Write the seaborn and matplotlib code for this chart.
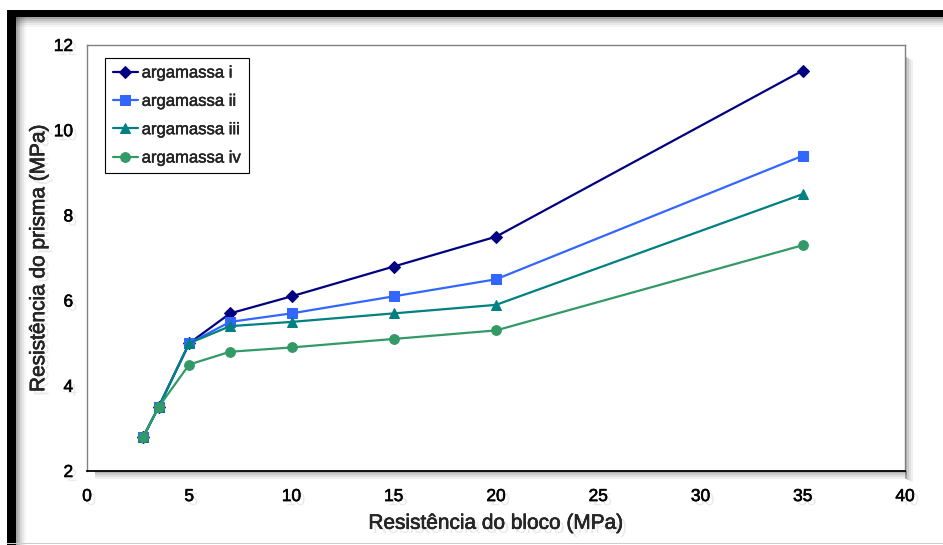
import matplotlib
matplotlib.use("Agg")
import matplotlib.pyplot as plt
import matplotlib.patheffects as pe
from matplotlib.patches import Rectangle
import seaborn as sns
import pandas as pd

# Block strength (MPa) and prism strength (MPa) per mortar type
bloco = [2.75, 3.5, 5, 7, 10, 15, 20, 35]
arg_i = [2.8, 3.5, 5.0, 5.7, 6.1, 6.8, 7.5, 11.4]
arg_ii = [2.8, 3.5, 5.0, 5.5, 5.7, 6.1, 6.5, 9.4]
arg_iii = [2.8, 3.5, 5.0, 5.4, 5.5, 5.7, 5.9, 8.5]
arg_iv = [2.8, 3.5, 4.5, 4.8, 4.9, 5.1, 5.3, 7.3]
series_names = ["argamassa i", "argamassa ii", "argamassa iii", "argamassa iv"]
x_ticks = [0, 5, 10, 15, 20, 25, 30, 35, 40]
y_ticks = [2, 4, 6, 8, 10, 12]

rows = []
for name, vals in zip(series_names, [arg_i, arg_ii, arg_iii, arg_iv]):
    for xb, yp in zip(bloco, vals):
        rows.append({"bloco": xb, "prisma": yp, "serie": name})
df = pd.DataFrame(rows)

sns.set_theme(style="white")
plt.rcParams["font.family"] = ["Liberation Sans", "DejaVu Sans"]

palette = {"argamassa i": "#000080", "argamassa ii": "#3366FF",
           "argamassa iii": "#008080", "argamassa iv": "#339966"}
markers = {"argamassa i": "D", "argamassa ii": "s",
           "argamassa iii": "^", "argamassa iv": "o"}
msize = {"argamassa i": 6, "argamassa ii": 7, "argamassa iii": 7, "argamassa iv": 7}

fig = plt.figure(figsize=(9.43, 5.45), dpi=100)
fig.patch.set_facecolor("white")

W, H = 943.0, 545.0

# Outer frame: black bars on top and left with soft grey shadow
for i, a in enumerate([0.35, 0.25, 0.16, 0.09, 0.04]):
    fig.patches.append(Rectangle((16 / W, (528 - 2 * i - 2) / H), 1, 2 / H,
                                 transform=fig.transFigure, color="black",
                                 alpha=a, lw=0, zorder=-2))
    fig.patches.append(Rectangle(((16 + 2 * i) / W, 0), 2 / W, 528 / H,
                                 transform=fig.transFigure, color="black",
                                 alpha=a, lw=0, zorder=-2))
fig.patches.append(Rectangle((7 / W, 528 / H), 1, 7 / H,
                             transform=fig.transFigure, color="black", lw=0, zorder=-1))
fig.patches.append(Rectangle((7 / W, 0), 9 / W, 535 / H,
                             transform=fig.transFigure, color="black", lw=0, zorder=-1))
fig.patches.append(Rectangle((7 / W, 1 / H), 1, 1 / H,
                             transform=fig.transFigure, color="#cccccc", lw=0, zorder=-1))

ax = fig.add_axes([87 / W, 74 / H, 818 / W, 426 / H])

# Drop shadow of the plot area
for i, a in enumerate([0.30, 0.20, 0.12, 0.06]):
    fig.patches.append(Rectangle(((905 + i * 2) / W, (66 - i) / H), 2 / W, (426 - 4) / H,
                                 transform=fig.transFigure, color="black",
                                 alpha=a, lw=0, zorder=-2))
    fig.patches.append(Rectangle((95 / W, (72 - i * 2) / H), (812) / W, 2 / H,
                                 transform=fig.transFigure, color="black",
                                 alpha=a, lw=0, zorder=-2))

for name in series_names:
    sub = df[df["serie"] == name]
    sns.lineplot(data=sub, x="bloco", y="prisma", ax=ax, color=palette[name],
                 marker=markers[name], markersize=msize[name],
                 markeredgecolor=palette[name], linewidth=1.6, label=name,
                 sort=False, estimator=None)

ax.set_xlim(0, 40)
ax.set_ylim(2, 12)
ax.set_xticks(x_ticks)
ax.set_yticks(y_ticks)

for side in ["top", "right", "left"]:
    ax.spines[side].set_color("#808080")
    ax.spines[side].set_linewidth(1.0)
ax.spines["bottom"].set_color("black")
ax.spines["bottom"].set_linewidth(1.3)

ax.tick_params(axis="both", which="both", direction="out", length=5,
               width=0.8, color="#808080", labelsize=12.5, labelcolor="black")
ax.tick_params(axis="x", pad=8)
ax.tick_params(axis="y", pad=5)

# Soft drop shadow plus a hairline stroke for slightly heavier text
shadow = [pe.SimplePatchShadow(offset=(3, -3), shadow_rgbFace="#999999", alpha=0.2),
          pe.withStroke(linewidth=0.4, foreground="black")]
for lbl in ax.get_xticklabels() + ax.get_yticklabels():
    lbl.set_path_effects(shadow)

ax.set_xlabel("Resistência do bloco (MPa)", fontsize=15, labelpad=7,
              path_effects=shadow)
ax.set_ylabel("Resistência do prisma (MPa)", fontsize=15, labelpad=4,
              path_effects=shadow)

leg = ax.legend(loc="upper left", bbox_to_anchor=(18 / 818, 1 - 13 / 426),
                fontsize=12, frameon=True, fancybox=False, framealpha=1,
                edgecolor="black", handlelength=1.5, handletextpad=0.25,
                borderpad=0.45, labelspacing=0.8, borderaxespad=0)
leg.get_frame().set_linewidth(0.8)
for t in leg.get_texts():
    t.set_path_effects([pe.withStroke(linewidth=0.3, foreground="black")])

fig.savefig("out.png", dpi=100)
